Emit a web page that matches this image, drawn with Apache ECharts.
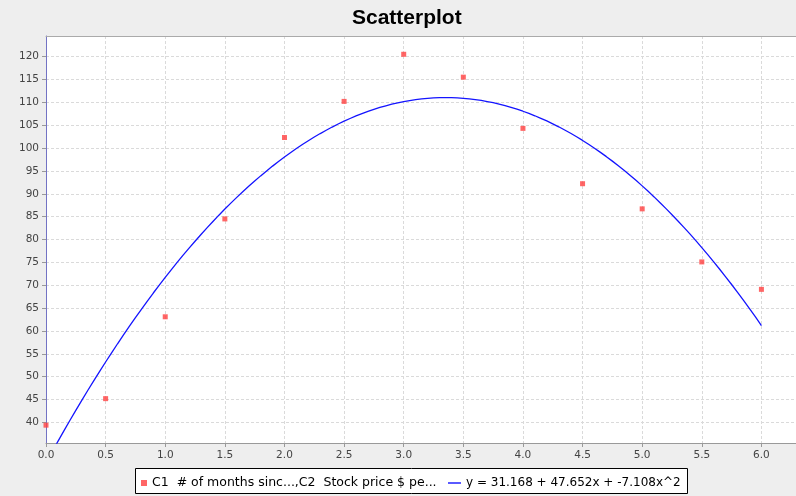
<!DOCTYPE html>
<html>
<head>
<meta charset="utf-8">
<style>
  html, body { margin: 0; padding: 0; background: #eeeeee; }
  #chart { width: 796px; height: 496px; }
</style>
<script src="https://cdn.jsdelivr.net/npm/echarts@6/dist/echarts.min.js"></script>
</head>
<body>
<div id="chart"></div>
<script>
// Months since start (C1) and stock price (C2)
const months = [0.0, 0.5, 1.0, 1.5, 2.0, 2.5, 3.0, 3.5, 4.0, 4.5, 5.0, 5.5, 6.0];
const prices = [39.4, 45.2, 63.1, 84.5, 102.3, 110.2, 120.5, 115.5, 104.3, 92.2, 86.7, 75.1, 69.1];

// Quadratic fit coefficients: y = c0 + c1*x + c2*x^2
const fitCoefficients = [31.168, 47.652, -7.108];

// Axis tick positions
const xTicks = [0.0, 0.5, 1.0, 1.5, 2.0, 2.5, 3.0, 3.5, 4.0, 4.5, 5.0, 5.5, 6.0];
const yTicks = [40, 45, 50, 55, 60, 65, 70, 75, 80, 85, 90, 95, 100, 105, 110, 115, 120];

const scatterName = 'C1  # of months sinc...,C2  Stock price $ pe...';
const fitName = 'y = 31.168 + 47.652x + -7.108x^2';

// Sample the fitted curve across the data range
const fitPoints = [];
for (let i = 0; i <= 120; i++) {
  const x = months[0] + (months[months.length - 1] - months[0]) * i / 120;
  const y = fitCoefficients[0] + fitCoefficients[1] * x + fitCoefficients[2] * x * x;
  fitPoints.push([x, y]);
}

const titleFont = 'Liberation Sans, Arial, sans-serif';
const font = 'DejaVu Sans, sans-serif';
const gridLine = { show: true, lineStyle: { color: '#dadada', type: [3, 2], width: 1 } };
const hidden = { show: false };

const chart = echarts.init(document.getElementById('chart'), null, { renderer: 'canvas' });
chart.setOption({
  backgroundColor: '#eeeeee',
  animation: false,
  title: {
    text: 'Scatterplot',
    left: 352,
    top: 8,
    padding: 0,
    textStyle: { fontSize: 21, fontWeight: 'bold', color: '#000', fontFamily: titleFont }
  },
  graphic: [{
    type: 'rect',
    z: 0,
    shape: { x: 135.5, y: 468.5, width: 552, height: 25 },
    style: { fill: '#ffffff', stroke: '#000000', lineWidth: 1 }
  }],
  legend: [{
    data: [scatterName],
    left: 141,
    top: 476,
    padding: 0,
    itemWidth: 6,
    itemHeight: 6,
    textStyle: { fontSize: 12.5, color: '#000', fontFamily: font, lineHeight: 14 }
  }, {
    data: [{ name: fitName, icon: 'rect' }],
    left: 448,
    top: 476,
    padding: 0,
    itemWidth: 13,
    itemHeight: 1.4,
    textStyle: { fontSize: 12, color: '#000', fontFamily: font, lineHeight: 14 }
  }],
  grid: {
    left: 46,
    top: 36,
    right: 0,
    bottom: 53,
    show: true,
    backgroundColor: '#ffffff',
    borderWidth: 0
  },
  xAxis: [{
    type: 'value',
    min: 0,
    max: 6.29,
    axisLine: { show: true, onZero: false, lineStyle: { color: '#999999' } },
    axisTick: { show: true, length: 4, customValues: xTicks, lineStyle: { color: '#999999' } },
    axisLabel: {
      customValues: xTicks,
      margin: 7,
      fontSize: 10.5,
      color: '#444444',
      fontFamily: font,
      formatter: v => v.toFixed(1)
    },
    splitLine: gridLine
  }, {
    // top edge of the plot frame
    type: 'value',
    position: 'top',
    min: 0,
    max: 6.29,
    axisLine: { show: true, onZero: false, lineStyle: { color: '#aaaaaa' } },
    axisTick: hidden,
    axisLabel: hidden,
    splitLine: hidden
  }],
  yAxis: {
    type: 'value',
    min: 35.5,
    max: 124.5,
    axisLine: { show: true, onZero: false, lineStyle: { color: '#7373c4' } },
    axisTick: { show: true, length: 4, customValues: yTicks, lineStyle: { color: '#999999' } },
    axisLabel: {
      customValues: yTicks,
      margin: 7,
      fontSize: 10.5,
      color: '#444444',
      fontFamily: font,
      formatter: v => String(v)
    },
    splitLine: gridLine
  },
  series: [{
    name: scatterName,
    type: 'scatter',
    symbol: 'rect',
    symbolSize: 5,
    symbolKeepAspect: true,
    itemStyle: { color: '#ff4040' },
    data: months.map((m, i) => [m, prices[i]]),
    z: 3
  }, {
    name: fitName,
    type: 'line',
    symbol: 'none',
    clip: true,
    lineStyle: { color: '#1414ff', width: 1.3 },
    itemStyle: { color: '#1414ff' },
    data: fitPoints,
    z: 2
  }]
});
</script>
</body>
</html>
